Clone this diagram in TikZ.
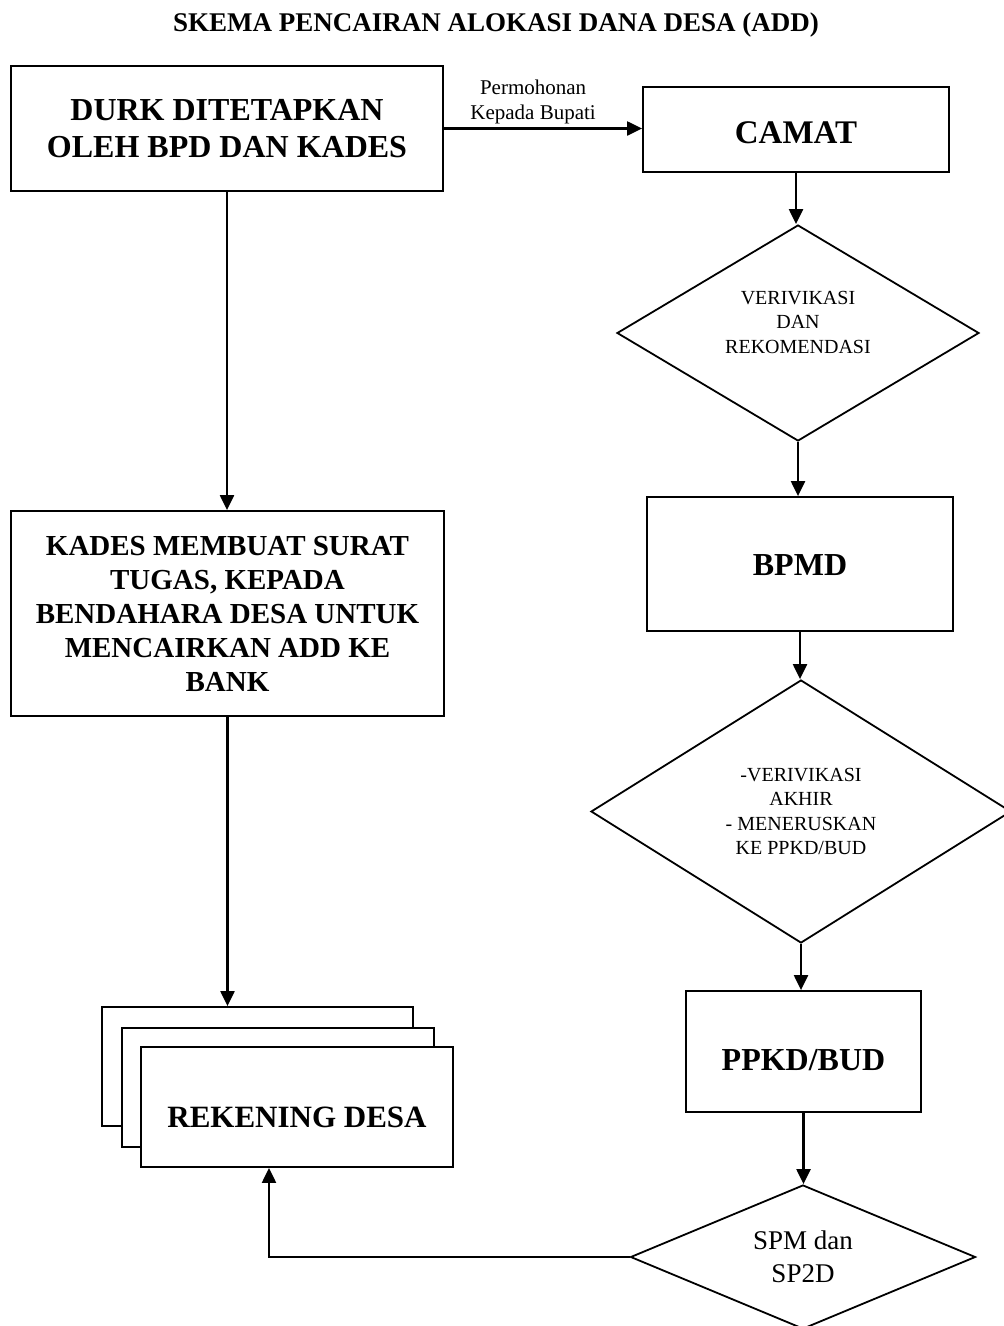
\documentclass[tikz,border=0pt]{standalone}
\usepackage{fontspec}
\setmainfont{Liberation Serif}
\usetikzlibrary{arrows.meta,shapes.geometric,calc}
\begin{document}
\begin{tikzpicture}[x=1pt,y=-1pt,
  box/.style={draw,line width=1.8pt,inner sep=0pt,align=center,font=\bfseries\fontsize{32}{37}\selectfont},
  dia/.style={draw,diamond,aspect=1.6,line width=1.8pt,inner sep=0pt,align=center,font=\fontsize{20}{24.5}\selectfont},
  arr/.style={line width=2.2pt,-{Triangle[length=15pt,width=14pt]}},
  lbltext/.style={font=\fontsize{21}{25}\selectfont,align=center,inner sep=0pt}
]
\useasboundingbox (0,0) rectangle (1004,1326);
\fill[white] (0,0) rectangle (1004,1326);
\clip (0,0) rectangle (1004,1326);

\node[font=\bfseries\fontsize{27}{32}\selectfont, anchor=base] (title) at (496,31) {SKEMA PENCAIRAN ALOKASI DANA DESA (ADD)};

% left column
\node[box, minimum width=432pt, minimum height=125pt] (durk) at (227,128.5) {DURK DITETAPKAN\\OLEH BPD DAN KADES};
\node[box, font=\bfseries\fontsize{29}{34}\selectfont, minimum width=433pt, minimum height=205pt] (kades) at (227.5,613.5) {KADES MEMBUAT SURAT\\TUGAS, KEPADA\\BENDAHARA DESA UNTUK\\MENCAIRKAN ADD KE\\BANK};
\node[box, fill=white, minimum width=311pt, minimum height=119pt] (rek3) at (257.5,1066.5) {};
\node[box, fill=white, minimum width=312pt, minimum height=119pt] (rek2) at (278,1087.5) {};
\node[box, fill=white, minimum width=312pt, minimum height=120pt, font=\bfseries\fontsize{31}{36}\selectfont, text height=40pt, text depth=0pt] (rek1) at (297,1107) {REKENING DESA};

% right column
\node[box, font=\bfseries\fontsize{33}{38}\selectfont, minimum width=306pt, minimum height=85pt, text height=27pt, text depth=0pt] (camat) at (796,129.5) {CAMAT};
\node[dia, minimum width=362pt, minimum height=216pt,
  label={[lbltext,font=\fontsize{20}{24.5}\selectfont,yshift=11pt]center:VERIVIKASI\\DAN\\REKOMENDASI}] (d1) at (798,333) {};
\node[box, minimum width=306pt, minimum height=134pt, text height=22pt, text depth=0pt] (bpmd) at (800,564) {BPMD};
\node[dia, minimum width=420pt, minimum height=263pt] (d2) at (801,811.5) {-VERIVIKASI\\AKHIR\\- MENERUSKAN\\KE PPKD/BUD};
\node[box, minimum width=235pt, minimum height=121pt, text height=37pt, text depth=0pt] (ppkd) at (803.5,1051.5) {PPKD/BUD};
\node[dia, aspect=2.4, minimum width=345pt, minimum height=144pt, font=\fontsize{27}{33}\selectfont] (d3) at (803,1257) {SPM dan\\SP2D};

% connectors
\draw[arr] (durk.east) -- (durk.east -| camat.west)
  node[pos=0.45, above=3pt, lbltext] (lbl) {Permohonan\\Kepada Bupati};
\draw[arr] (camat.south) -- (camat.south |- d1.north);
\draw[arr] (d1.south) -- (d1.south |- bpmd.north);
\draw[arr] (bpmd.south) -- (bpmd.south |- d2.north);
\draw[arr] (d2.south) -- (d2.south |- ppkd.north);
\draw[arr] (ppkd.south) -- (ppkd.south |- d3.north);
\draw[arr] (durk.south) -- (durk.south |- kades.north);
\draw[arr] (kades.south) -- (kades.south |- rek3.north);
\draw[arr] (d3.west) -| ([xshift=-28pt]rek1.south);
\end{tikzpicture}
\end{document}
